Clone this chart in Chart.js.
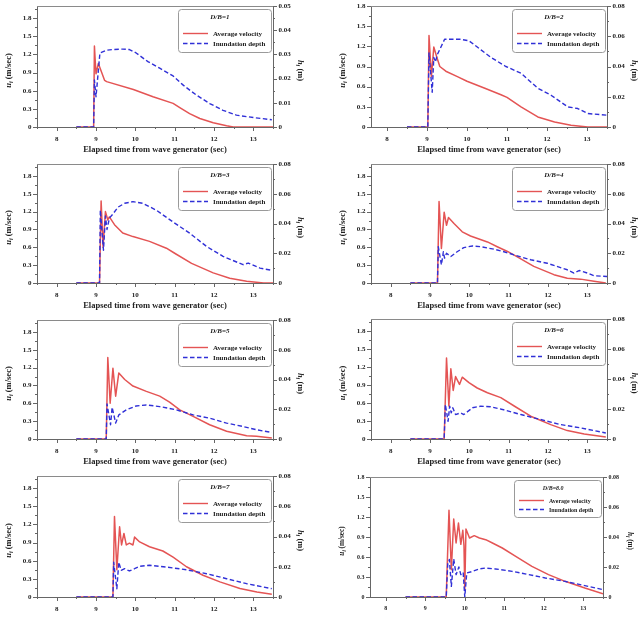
<!DOCTYPE html>
<html><head><meta charset="utf-8">
<script src="https://cdn.jsdelivr.net/npm/chart.js@4.4.1/dist/chart.umd.min.js"></script>
<style>
html,body{margin:0;padding:0;background:#fff;}
body{width:643px;height:617px;overflow:hidden;position:relative;}
canvas{position:absolute;}
</style></head><body>
<script>
// ---------- data ----------
const panelLabels = ['D/B=1','D/B=2','D/B=3','D/B=4','D/B=5','D/B=6','D/B=7','D/B=8.0'];
const seriesNames = ['Average velocity','Inundation depth'];
const xTitle = 'Elapsed time from wave generator (sec)';
const xTicks = [8,9,10,11,12,13];
const velTicks = [0,0.3,0.6,0.9,1.2,1.5,1.8];
const depthTicksA = [0,0.01,0.02,0.03,0.04,0.05];
const depthTicksB = [0,0.02,0.04,0.06,0.08];

const velT1 = [8.5,8.94,8.96,8.98,9.0,9.06,9.22,9.27,9.95,10.45,10.96,11.13,11.38,11.64,11.98,12.32,12.49,13.5];
const vel1  = [0,0,1.34,1.1,0.88,1.05,0.77,0.75,0.62,0.5,0.39,0.32,0.22,0.14,0.07,0.02,0,0];
const depT1 = [8.5,8.94,8.96,9.0,9.1,9.26,9.43,9.68,9.85,10.02,10.32,10.62,10.96,11.21,11.55,11.89,12.23,12.57,13.0,13.47];
const dep1  = [0,0,0.0194,0.0125,0.0306,0.0317,0.032,0.0322,0.032,0.0306,0.027,0.0243,0.0211,0.0174,0.0132,0.0097,0.0069,0.0049,0.0039,0.003];

const velT2 = [8.5,9.02,9.05,9.11,9.17,9.24,9.32,9.47,9.76,10.0,10.43,10.85,11.0,11.35,11.77,12.19,12.6,13.02,13.5];
const vel2  = [0,0,1.36,0.75,1.19,1.05,0.9,0.83,0.75,0.68,0.58,0.48,0.44,0.3,0.15,0.075,0.025,0,0];
const depT2 = [8.5,9.02,9.05,9.13,9.17,9.21,9.26,9.44,9.84,10.05,10.35,10.6,10.97,11.35,11.77,12.1,12.52,12.77,13.02,13.5];
const dep2  = [0,0,0.049,0.023,0.046,0.043,0.048,0.058,0.058,0.057,0.051,0.046,0.04,0.0356,0.0256,0.021,0.0133,0.0122,0.0089,0.0078];

const velT3 = [8.5,9.09,9.13,9.18,9.24,9.3,9.34,9.47,9.68,9.94,10.36,10.79,11.0,11.43,11.98,12.4,12.83,13.26,13.5];
const vel3  = [0,0,1.38,0.6,1.2,1.06,1.11,0.98,0.84,0.78,0.7,0.585,0.5,0.33,0.17,0.08,0.03,0,0];
const depT3 = [8.5,9.09,9.11,9.19,9.24,9.28,9.34,9.42,9.56,9.73,9.94,10.19,10.53,10.96,11.38,11.81,12.23,12.74,12.87,13.17,13.47];
const dep3  = [0,0,0.049,0.022,0.045,0.036,0.0436,0.046,0.051,0.0536,0.0547,0.0536,0.049,0.041,0.0335,0.0246,0.0179,0.0123,0.0134,0.01,0.0085];

const velT4 = [8.5,9.19,9.23,9.29,9.36,9.42,9.47,9.61,9.82,10.03,10.46,10.71,10.97,11.22,11.64,12.15,12.49,12.83,13.17,13.47];
const vel4  = [0,0,1.37,0.58,1.19,0.97,1.1,1.0,0.86,0.79,0.69,0.61,0.53,0.44,0.28,0.14,0.08,0.065,0.03,0];
const depT4 = [8.5,9.19,9.21,9.29,9.34,9.37,9.42,9.53,9.69,9.86,10.08,10.29,10.63,10.88,11.14,11.56,11.98,12.49,12.66,12.79,13.0,13.17,13.51];
const dep4  = [0,0,0.0244,0.0122,0.021,0.0167,0.02,0.0178,0.021,0.0238,0.0249,0.0244,0.0227,0.021,0.0189,0.0156,0.0133,0.0089,0.0067,0.0084,0.0067,0.0049,0.0044];

const velT5 = [8.5,9.26,9.3,9.36,9.43,9.5,9.58,9.73,9.94,10.28,10.62,10.87,11.13,11.47,11.89,12.32,12.83,13.08,13.47];
const vel5  = [0,0,1.37,0.6,1.19,0.72,1.11,1.0,0.89,0.8,0.72,0.62,0.49,0.38,0.24,0.13,0.056,0.045,0.017];
const depT5 = [8.5,9.26,9.28,9.37,9.41,9.5,9.58,9.77,10.02,10.28,10.62,11.04,11.47,11.89,12.32,12.74,13.08,13.47];
const dep5  = [0,0,0.0236,0.0096,0.0213,0.0107,0.0162,0.0196,0.0222,0.0229,0.0218,0.0196,0.0162,0.014,0.0107,0.0084,0.0062,0.0044];

const velT6 = [8.5,9.36,9.42,9.48,9.53,9.59,9.65,9.75,9.82,9.99,10.2,10.46,10.8,11.14,11.56,12.07,12.49,12.92,13.47];
const vel6  = [0,0,1.35,0.55,1.17,0.81,1.04,0.91,1.03,0.94,0.85,0.77,0.69,0.55,0.38,0.24,0.14,0.084,0.033];
const depT6 = [8.5,9.36,9.39,9.46,9.5,9.54,9.58,9.65,9.78,9.86,10.08,10.29,10.54,10.84,11.31,11.81,12.32,12.83,13.47];
const dep6  = [0,0,0.023,0.0118,0.0219,0.0174,0.0208,0.0163,0.0174,0.0163,0.0208,0.0219,0.0215,0.0197,0.0163,0.013,0.0096,0.0074,0.004];

const velT7 = [8.5,9.43,9.47,9.53,9.6,9.65,9.71,9.77,9.85,9.94,9.98,10.11,10.36,10.7,10.96,11.3,11.72,12.15,12.66,13.09,13.47];
const vel7  = [0,0,1.33,0.45,1.16,0.86,1.05,0.86,0.89,0.86,0.99,0.91,0.83,0.76,0.66,0.5,0.36,0.25,0.14,0.083,0.044];
const depT7 = [8.5,9.43,9.45,9.53,9.58,9.64,9.73,9.85,9.98,10.11,10.36,10.79,11.3,11.81,12.32,12.83,13.47];
const dep7  = [0,0,0.023,0.0055,0.023,0.0176,0.0187,0.0172,0.0187,0.0203,0.021,0.0198,0.018,0.0154,0.0121,0.0088,0.0055];

const velT8 = [8.5,9.53,9.6,9.66,9.72,9.78,9.84,9.9,9.95,9.98,10.0,10.03,10.12,10.24,10.37,10.53,10.7,10.95,11.29,11.7,12.12,12.54,13.04,13.5];
const vel8  = [0,0,1.3,0.41,1.17,0.81,1.11,0.79,1.0,0.77,0.1,1.02,0.885,0.92,0.885,0.86,0.81,0.735,0.61,0.46,0.335,0.235,0.135,0.05];
const depT8 = [8.5,9.53,9.57,9.61,9.66,9.72,9.78,9.85,9.9,9.96,10.0,10.05,10.2,10.37,10.53,10.78,11.2,11.62,12.04,12.54,13.04,13.5];
const dep8  = [0,0,0.0227,0.025,0.0071,0.0253,0.0149,0.02,0.0149,0.0164,0,0.016,0.0171,0.0187,0.0193,0.0187,0.0171,0.0149,0.0127,0.0104,0.0076,0.0049];

const velTimes = [velT1,velT2,velT3,velT4,velT5,velT6,velT7,velT8];
const velVals  = [vel1,vel2,vel3,vel4,vel5,vel6,vel7,vel8];
const depTimes = [depT1,depT2,depT3,depT4,depT5,depT6,depT7,depT8];
const depVals  = [dep1,dep2,dep3,dep4,dep5,dep6,dep7,dep8];

// ---------- layout / styling ----------
const FONT = "'Liberation Serif','Times New Roman',serif";
const RED = 'rgb(228,84,84)', BLUE = 'rgb(48,48,215)', AXIS = '#666', TXT = '#222';
const panels = [
  {left:0,  top:0,   w:320, plotH:121, yl:37, yr:47, xMin:7.5, uMax:2.0, hMax:0.05, hTicks:depthTicksA},
  {left:320,top:0,   w:323, plotH:121, yl:51, yr:36, xMin:7.6, uMax:1.8, hMax:0.08, hTicks:depthTicksB},
  {left:0,  top:158, w:320, plotH:119, yl:37, yr:47, xMin:7.5, uMax:2.0, hMax:0.08, hTicks:depthTicksB},
  {left:320,top:158, w:323, plotH:119, yl:51, yr:36, xMin:7.5, uMax:2.0, hMax:0.08, hTicks:depthTicksB},
  {left:0,  top:314, w:320, plotH:119, yl:37, yr:47, xMin:7.5, uMax:2.0, hMax:0.08, hTicks:depthTicksB},
  {left:320,top:313, w:323, plotH:120, yl:51, yr:36, xMin:7.5, uMax:2.0, hMax:0.08, hTicks:depthTicksB},
  {left:0,  top:470, w:320, plotH:121, yl:37, yr:47, xMin:7.5, uMax:2.0, hMax:0.08, hTicks:depthTicksB, noTitle:true},
  {left:320,top:471, w:323, plotH:120, yl:50, yr:40, xMin:7.6, uMax:1.8, hMax:0.08, hTicks:depthTicksB, small:true}
];

function hline(ctx,x1,y1,x2,y2){ctx.beginPath();ctx.moveTo(x1,y1);ctx.lineTo(x2,y2);ctx.stroke();}

function drawRotTitle(ctx, cx, cy, rot, parts){
  ctx.save();
  ctx.translate(cx, cy); ctx.rotate(rot);
  ctx.textBaseline = 'middle'; ctx.textAlign = 'left'; ctx.fillStyle = TXT;
  let total = 0;
  parts.forEach(p=>{ctx.font = p.font; p.w = ctx.measureText(p.t).width; total += p.w;});
  let x = -total/2;
  parts.forEach(p=>{ctx.font = p.font; ctx.fillText(p.t, x, p.dy||0); x += p.w;});
  ctx.restore();
}

const deco = {
  id:'deco',
  afterDraw(chart){
    const o = chart.options.plugins.deco;
    const ctx = chart.ctx, a = chart.chartArea;
    const sx = chart.scales.x, sl = chart.scales.yL, sr = chart.scales.yR;
    const s = o.small ? 0.85 : 1;
    ctx.save();
    ctx.lineWidth = 1;
    // top frame
    ctx.strokeStyle = '#8a8a8a';
    hline(ctx, a.left, Math.round(a.top)+0.5, a.right, Math.round(a.top)+0.5);
    // ticks
    ctx.strokeStyle = AXIS;
    for (let v = Math.ceil(sx.min*2)/2; v <= sx.max+1e-9; v += 0.5){
      const px = Math.round(sx.getPixelForValue(v))+0.5;
      const major = Math.abs(v-Math.round(v))<1e-6;
      hline(ctx, px, a.bottom, px, a.bottom + (major?4:2));
    }
    for (let v = 0; v <= sl.max+1e-9; v += 0.15){
      const py = Math.round(sl.getPixelForValue(v))+0.5;
      const major = Math.abs(v/0.3-Math.round(v/0.3))<1e-6;
      hline(ctx, a.left, py, a.left - (major?4:2), py);
    }
    const hs = o.hStep/2;
    for (let k = 0; k*hs <= sr.max+1e-9; k++){
      const v = k*hs;
      const py = Math.round(sr.getPixelForValue(v))+0.5;
      hline(ctx, a.right, py, a.right + (k%2===0?4:2), py);
    }
    // y titles
    const fs = 8.5*s;
    const bold = 'bold '+fs+'px '+FONT, ital = 'italic bold '+fs+'px '+FONT, sub = 'italic bold '+(fs*0.7)+'px '+FONT;
    const cy = (a.top+a.bottom)/2 + 4;
    drawRotTitle(ctx, a.left-28, cy, -Math.PI/2, [{t:'u',font:ital},{t:'i',font:sub,dy:2.5},{t:' (m/sec)',font:bold}]);
    drawRotTitle(ctx, a.right+27, cy, Math.PI/2, [{t:'h',font:ital},{t:'i',font:sub,dy:2.5},{t:' (m)',font:bold}]);
    // legend box
    const bw = o.small ? 87 : 93, bh = o.small ? 37 : 43;
    const bx = a.right - bw - 2, by = a.top + (o.small?3:2.5);
    ctx.fillStyle = '#fff'; ctx.strokeStyle = '#9a9a9a'; ctx.lineWidth = 1;
    ctx.beginPath(); ctx.roundRect(Math.round(bx)+0.5, Math.round(by)+0.5, bw, bh, 3); ctx.fill(); ctx.stroke();
    ctx.fillStyle = TXT; ctx.textBaseline = 'middle';
    ctx.textAlign = 'center';
    ctx.font = 'italic bold '+(7*s)+'px '+FONT;
    ctx.fillText(o.label, bx + bw*0.45, by + (o.small?8.5:9));
    ctx.textAlign = 'left';
    ctx.font = 'bold '+(7*s)+'px '+FONT;
    const ds = chart.data.datasets;
    const rows = o.small ? [20.5, 29.5] : [25, 35];
    const order = [1,0]; // velocity first, depth second
    order.forEach((di, r)=>{
      const d = ds[di]; const yy = by + rows[r];
      ctx.strokeStyle = d.borderColor; ctx.lineWidth = 1.4;
      ctx.setLineDash(d.borderDash || []);
      hline(ctx, bx+5, yy, bx+30, yy);
      ctx.setLineDash([]);
      ctx.fillText(d.label, bx+35, yy+0.5);
    });
    ctx.restore();
  }
};

Chart.defaults.font.family = FONT;

function fmt(dec){ return (v)=> v===0 ? '0' : v.toFixed(dec); }

panels.forEach((p, i)=>{
  const cv = document.createElement('canvas');
  const h = p.plotH + 38;
  cv.width = p.w; cv.height = h;
  cv.style.left = p.left+'px'; cv.style.top = p.top+'px';
  cv.style.width = p.w+'px'; cv.style.height = h+'px';
  document.body.appendChild(cv);
  const s = p.small ? 0.85 : 1;
  const tickFont = {size:7*s, weight:'bold'};
  const depth = depTimes[i].map((t,k)=>({x:t, y:depVals[i][k]}));
  const vel = velTimes[i].map((t,k)=>({x:t, y:velVals[i][k]}));
  const hStep = p.hTicks[1]-p.hTicks[0];
  new Chart(cv, {
    type:'line',
    data:{datasets:[
      {label:seriesNames[1], data:depth, yAxisID:'yR', borderColor:BLUE, borderWidth:1.4, borderDash:[4.5,2.5], pointRadius:0, tension:0, fill:false, borderJoinStyle:'round'},
      {label:seriesNames[0], data:vel, yAxisID:'yL', borderColor:RED, borderWidth:1.5, pointRadius:0, tension:0, fill:false, borderJoinStyle:'round'}
    ]},
    options:{
      responsive:false, animation:false, devicePixelRatio:1,
      layout:{padding:{top:6,left:0,right:0,bottom:0}},
      plugins:{legend:{display:false}, tooltip:{enabled:false},
        deco:{label:panelLabels[i], small:!!p.small, hStep:hStep}},
      scales:{
        x:{type:'linear', position:'bottom', min:p.xMin, max:13.5,
          afterBuildTicks:(sc)=>{ sc.ticks = xTicks.map(v=>({value:v})); },
          afterFit:(sc)=>{ sc.height = 32; },
          grid:{drawOnChartArea:false, drawTicks:true, tickLength:4, tickColor:'rgba(0,0,0,0)'},
          border:{color:AXIS, width:1},
          ticks:{padding:4, font:tickFont, color:TXT, maxRotation:0, autoSkip:false, callback:(v)=>String(v)},
          title:{display:!p.noTitle, text:xTitle, color:TXT, font:{size:8.5*s, weight:'bold'}, padding:{top:0,bottom:4}}
        },
        yL:{type:'linear', position:'left', min:0, max:p.uMax,
          afterBuildTicks:(sc)=>{ sc.ticks = velTicks.map(v=>({value:v})); },
          afterFit:(sc)=>{ sc.width = p.yl; },
          grid:{drawOnChartArea:false, drawTicks:true, tickLength:4, tickColor:'rgba(0,0,0,0)'},
          border:{color:AXIS, width:1},
          ticks:{padding:1.5, font:tickFont, color:TXT, autoSkip:false, callback:fmt(1)}
        },
        yR:{type:'linear', position:'right', min:0, max:p.hMax,
          afterBuildTicks:(sc)=>{ sc.ticks = p.hTicks.map(v=>({value:v})); },
          afterFit:(sc)=>{ sc.width = p.yr; },
          grid:{drawOnChartArea:false, drawTicks:true, tickLength:4, tickColor:'rgba(0,0,0,0)'},
          border:{color:AXIS, width:1},
          ticks:{padding:1.5, font:tickFont, color:TXT, autoSkip:false, callback:fmt(2)}
        }
      }
    },
    plugins:[deco]
  });
});
</script>
</body></html>
